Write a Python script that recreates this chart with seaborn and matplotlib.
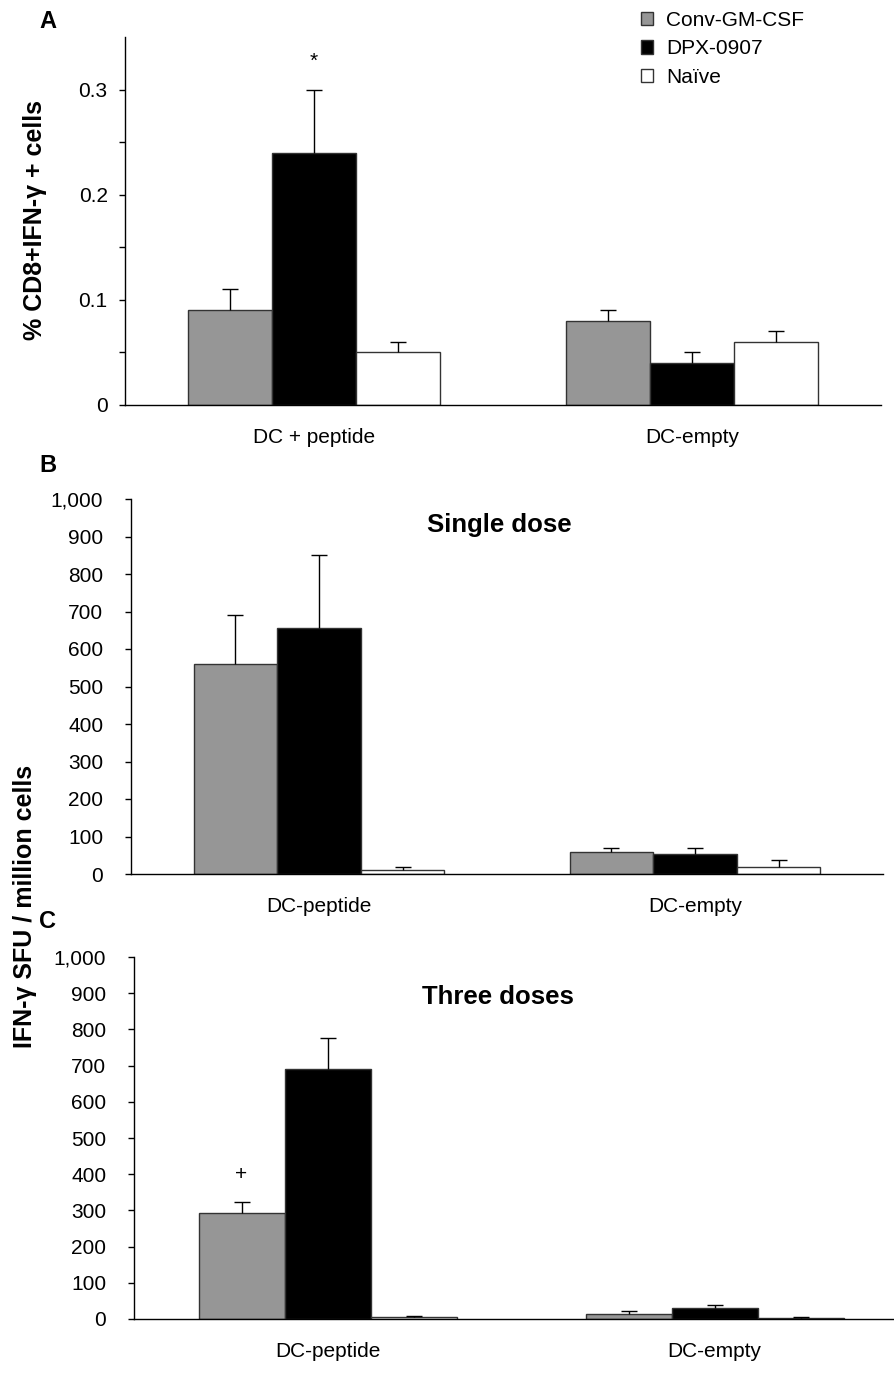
import pandas as pd
import matplotlib.pyplot as plt
import seaborn as sns
import numpy as np
from matplotlib.patches import Patch
from matplotlib.ticker import FuncFormatter

# Data
groups = ["Conv-GM-CSF", "DPX-0907", "Naïve"]
COLORS = ["#969696", "#000000", "#ffffff"]

cats_a = ["DC + peptide", "DC-empty"]
mean_a = {"Conv-GM-CSF": [0.09, 0.08], "DPX-0907": [0.24, 0.04], "Naïve": [0.05, 0.06]}
err_a = {"Conv-GM-CSF": [0.02, 0.01], "DPX-0907": [0.06, 0.01], "Naïve": [0.01, 0.01]}

cats_bc = ["DC-peptide", "DC-empty"]
mean_b = {"Conv-GM-CSF": [560, 60], "DPX-0907": [655, 53], "Naïve": [10, 20]}
err_b = {"Conv-GM-CSF": [130, 10], "DPX-0907": [195, 17], "Naïve": [8, 18]}

mean_c = {"Conv-GM-CSF": [294, 15], "DPX-0907": [690, 30], "Naïve": [5, 4]}
err_c = {"Conv-GM-CSF": [28, 7], "DPX-0907": [85, 10], "Naïve": [3, 2]}

# significance marks: (group, category, symbol)
marks_a = [("DPX-0907", "DC + peptide", "*")]
marks_c = [("Conv-GM-CSF", "DC-peptide", "+")]


def long_df(cats, means, errs):
    rows = []
    for g in groups:
        for c, m, e in zip(cats, means[g], errs[g]):
            rows.append({"cond": c, "group": g, "value": m, "err": e})
    return pd.DataFrame(rows)


sns.set_style("white")
plt.rcParams["font.family"] = ["Liberation Sans", "DejaVu Sans"]
plt.rcParams.update({"text.color": "black", "xtick.color": "black",
                     "ytick.color": "black", "axes.labelcolor": "black"})

W, H = 895, 1385
fig = plt.figure(figsize=(W / 100, H / 100), dpi=100)


def box(left, right, top, bottom):
    return [left / W, 1 - bottom / H, (right - left) / W, (bottom - top) / H]


def draw_panel(ax, cats, means, errs, marks, ypad):
    df = long_df(cats, means, errs)
    sns.barplot(data=df, x="cond", y="value", hue="group", order=cats,
                hue_order=groups, palette=COLORS, width=2 / 3, gap=0,
                saturation=1, edgecolor="#333333", linewidth=1,
                errorbar=None, legend=False, ax=ax)
    # one-sided error bars on top of each bar
    for g, cont in zip(groups, ax.containers):
        for c, bar in zip(cats, cont):
            x = bar.get_x() + bar.get_width() / 2
            y = bar.get_height()
            e = df[(df.group == g) & (df.cond == c)]["err"].iloc[0]
            _, caps, _ = ax.errorbar(x, y, yerr=[[0], [e]], fmt="none",
                                     ecolor="black", elinewidth=1,
                                     capsize=6, capthick=1)
            for cap in caps:
                if np.allclose(cap.get_ydata(), y):
                    cap.set_visible(False)
            for mg, mc, sym in marks:
                if mg == g and mc == c:
                    ax.annotate(sym, (x, y + e), xytext=(0, 20),
                                textcoords="offset points", ha="center",
                                va="center", fontsize=15)
    ax.set_xlim(-0.5, 1.5)
    ax.set_xticks([0, 1])
    ax.set_xticklabels(cats)
    ax.set_xticks([-0.5, 0.5, 1.5], minor=True)
    ax.tick_params(axis="x", which="major", length=0, pad=16.5, labelsize=15)
    ax.tick_params(axis="x", which="minor", length=5, width=1, direction="out")
    ax.tick_params(axis="y", length=4.5, width=1, direction="out", pad=ypad,
                   labelsize=15, left=True)
    ax.set_xlabel("")
    ax.set_ylabel("")
    sns.despine(ax=ax)
    for s in ["left", "bottom"]:
        ax.spines[s].set_color("black")
        ax.spines[s].set_linewidth(1)


# --- Panel A ---
ax_a = fig.add_axes(box(125, 881, 37, 405))
draw_panel(ax_a, cats_a, mean_a, err_a, marks_a, ypad=8)
ax_a.set_ylim(0, 0.35)
ax_a.set_yticks(np.arange(0, 0.31, 0.05))
ax_a.yaxis.set_major_formatter(FuncFormatter(
    lambda v, p: f"{v:g}" if round(v * 20) % 2 == 0 else ""))

# --- Panel B ---
ax_b = fig.add_axes(box(131, 883, 499, 874))
draw_panel(ax_b, cats_bc, mean_b, err_b, [], ypad=15.5)
ax_b.set_ylim(0, 1000)
ax_b.set_yticks(range(0, 1001, 100))
ax_b.yaxis.set_major_formatter(FuncFormatter(lambda v, p: f"{v:,.0f}"))
ax_b.text(0.49, 0.93, "Single dose", transform=ax_b.transAxes, ha="center",
          va="center", fontsize=18.5, fontweight="bold")

# --- Panel C ---
ax_c = fig.add_axes(box(134, 908, 957, 1319))
draw_panel(ax_c, cats_bc, mean_c, err_c, marks_c, ypad=15.5)
ax_c.set_ylim(0, 1000)
ax_c.set_yticks(range(0, 1001, 100))
ax_c.yaxis.set_major_formatter(FuncFormatter(lambda v, p: f"{v:,.0f}"))
ax_c.text(0.47, 0.89, "Three doses", transform=ax_c.transAxes, ha="center",
          va="center", fontsize=18.5, fontweight="bold")

# Panel letters and y-labels
for letter, y in [("A", 21), ("B", 465), ("C", 921)]:
    fig.text(48 / W, 1 - y / H, letter, ha="center", va="center",
             fontsize=17, fontweight="bold")
fig.text(35 / W, 1 - 220 / H, "% CD8+IFN-γ + cells", rotation=90,
         ha="center", va="center", fontsize=18, fontweight="bold")
fig.text(25 / W, 1 - 906 / H, "IFN-γ SFU / million cells", rotation=90,
         ha="center", va="center", fontsize=18, fontweight="bold")

# Legend
handles = [Patch(facecolor=c, edgecolor="#333333", linewidth=1) for c in COLORS]
fig.legend(handles, groups, loc="upper left", bbox_to_anchor=(641 / W, 1 - 11 / H),
           frameon=False, fontsize=15, handlelength=0.6, handleheight=0.6,
           handletextpad=0.6, labelspacing=0.45, borderpad=0, borderaxespad=0)

fig.savefig("out.png", dpi=100, facecolor="white")
